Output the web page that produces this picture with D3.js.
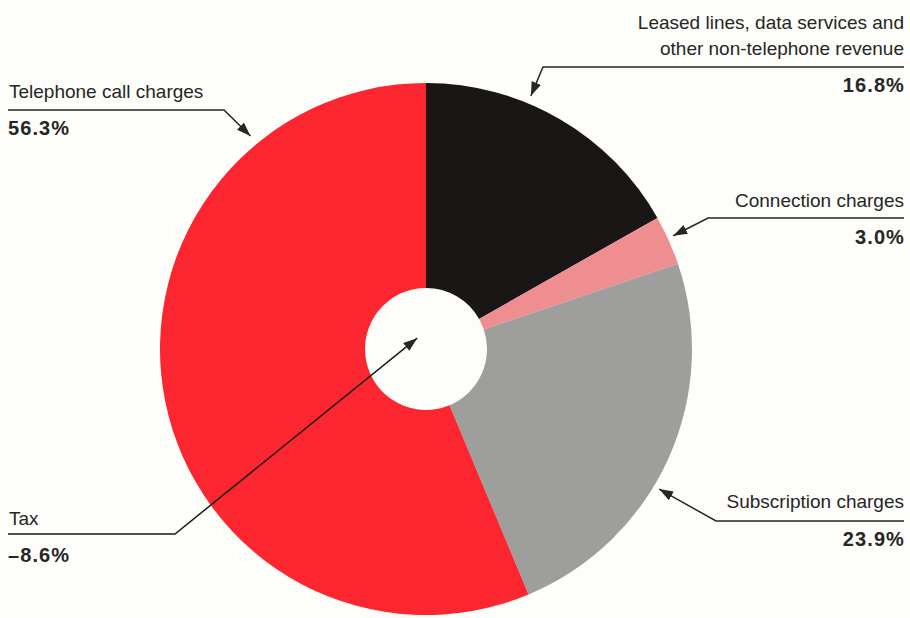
<!DOCTYPE html>
<html>
<head>
<meta charset="utf-8">
<script src="https://cdn.jsdelivr.net/npm/d3@7/dist/d3.min.js"></script>
<style>
  html, body { margin: 0; padding: 0; background: #fdfdfa; }
  svg { display: block; }
  text { font-family: "Liberation Sans", Arial, Helvetica, sans-serif; fill: #262626; }
  text.value { font-size: 20px; font-weight: bold; letter-spacing: 1.1px; }
  text.label { font-size: 19px; }
</style>
</head>
<body>
<svg id="chart" width="910" height="618"></svg>
<script>
// Revenue components, clockwise from 12 o'clock
const categories = [
  "Leased lines, data services and other non-telephone revenue",
  "Connection charges",
  "Subscription charges",
  "Telephone call charges"
];
const shares = [16.8, 3.0, 23.9, 56.3];
const sliceColors = ["#1b1616", "#ee8e90", "#9e9f9c", "#fb2630"];

// Tax is a deduction, shown as an annotation pointing at the hole
const taxLabel = "Tax";
const taxShare = -8.6;

const fmt = v => (v < 0 ? "\u2013" + Math.abs(v).toFixed(1) : v.toFixed(1)) + "%";

const svg = d3.select("#chart");
const cx = 426, cy = 349, outerR = 266, innerR = 61;

const pie = d3.pie().sort(null).value(d => d);
const arc = d3.arc().innerRadius(innerR).outerRadius(outerR);

const g = svg.append("g").attr("transform", `translate(${cx},${cy})`);
g.selectAll("path.slice")
  .data(pie(shares))
  .join("path")
  .attr("class", "slice")
  .attr("d", arc)
  .attr("fill", (d, i) => sliceColors[i]);

// arrowhead marker
svg.append("defs").append("marker")
  .attr("id", "arrow")
  .attr("viewBox", "0 0 14 10")
  .attr("refX", 14).attr("refY", 5)
  .attr("markerWidth", 14).attr("markerHeight", 10)
  .attr("markerUnits", "userSpaceOnUse")
  .attr("orient", "auto")
  .append("path")
  .attr("d", "M0,0 L14,5 L0,10 Z")
  .attr("fill", "#262626");

// pointer tips: polar position around the donut centre (angle in degrees from top)
const polar = (deg, r) => {
  const a = deg * Math.PI / 180;
  return [cx + r * Math.sin(a), cy - r * Math.cos(a)];
};

// callouts: label lines, underline run, and elbow toward the slice
const callouts = [
  { idx: 0, lines: ["Leased lines, data services and", "other non-telephone revenue"],
    anchor: "end", tx: 904, baselines: [29, 55], ruleY: 67, ruleFrom: 904, ruleTo: 543,
    tip: polar(22.5, 274), valueY: 92 },
  { idx: 1, lines: ["Connection charges"],
    anchor: "end", tx: 904, baselines: [207], ruleY: 218, ruleFrom: 904, ruleTo: 708,
    tip: polar(65.4, 272), valueY: 244 },
  { idx: 2, lines: ["Subscription charges"],
    anchor: "end", tx: 904, baselines: [508], ruleY: 521, ruleFrom: 904, ruleTo: 716,
    tip: polar(121, 272), valueY: 546 },
  { idx: 3, lines: ["Telephone call charges"],
    anchor: "start", tx: 9, baselines: [98], ruleY: 110, ruleFrom: 8, ruleTo: 224,
    tip: polar(320.5, 276), valueY: 135 }
];

const ann = svg.append("g");
callouts.forEach(c => {
  c.lines.forEach((t, k) => {
    ann.append("text")
      .attr("class", "label")
      .attr("x", c.tx).attr("y", c.baselines[k])
      .attr("text-anchor", c.anchor)
      .text(t);
  });
  ann.append("text")
    .attr("class", "value")
    .attr("x", c.anchor === "end" ? c.tx + 1 : c.tx - 1).attr("y", c.valueY)
    .attr("text-anchor", c.anchor)
    .text(fmt(shares[c.idx]));
  ann.append("path")
    .attr("d", d3.line()([[c.ruleFrom, c.ruleY], [c.ruleTo, c.ruleY], c.tip]))
    .attr("fill", "none")
    .attr("stroke", "#262626").attr("stroke-width", 1.5)
    .attr("marker-end", "url(#arrow)");
});

// tax annotation crossing the red slice into the hole
ann.append("text").attr("class", "label").attr("x", 9).attr("y", 525).text(taxLabel);
ann.append("text").attr("class", "value").attr("x", 8).attr("y", 562).text(fmt(taxShare));
ann.append("path")
  .attr("d", d3.line()([[8, 534], [175, 534], polar(-39.3, 14)]))
  .attr("fill", "none")
  .attr("stroke", "#1a1a1a").attr("stroke-width", 1.5)
  .attr("marker-end", "url(#arrow)");
</script>
</body>
</html>
